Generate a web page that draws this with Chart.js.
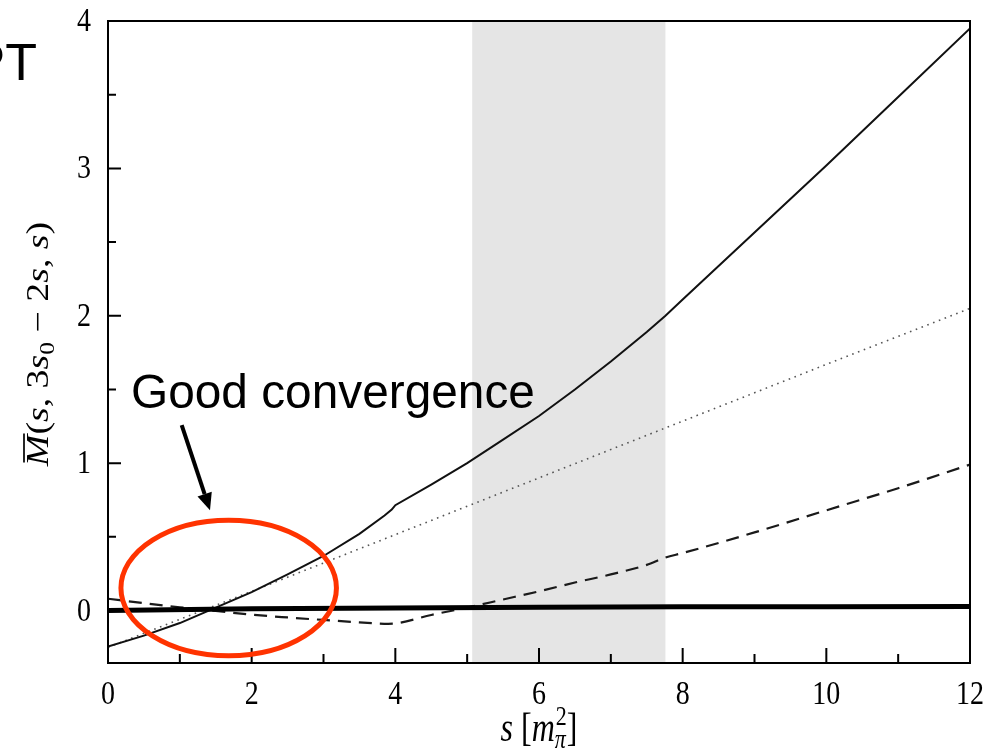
<!DOCTYPE html>
<html>
<head>
<meta charset="utf-8">
<script src="https://cdn.jsdelivr.net/npm/chart.js@4/dist/chart.umd.min.js"></script>
<style>
  html, body { margin: 0; padding: 0; background: #ffffff; }
  canvas { display: block; }
</style>
</head>
<body>
<canvas id="chart" width="992" height="753"></canvas>
<script>
// Full two-loop amplitude (solid)
const solidS = [0, 0.5, 1, 1.5, 2, 2.5, 3, 3.5, 3.85, 3.95, 4.0, 4.5, 5, 5.5, 6, 6.5, 7, 7.5, 7.76, 8, 9, 10, 11, 12];
const solidM = [-0.245, -0.17, -0.085, 0.02, 0.125, 0.245, 0.37, 0.52, 0.645, 0.685, 0.715, 0.855, 1.0, 1.16, 1.32, 1.5, 1.69, 1.89, 2.0, 2.11, 2.565, 3.02, 3.485, 3.95];

// Leading order (dotted)
const dotS = [0, 2, 4, 6, 8, 10, 12];
const dotM = [-0.25, 0.13, 0.515, 0.9, 1.285, 1.67, 2.05];

// Next-to-leading correction (dashed)
const dashS = [0, 0.5, 1, 1.5, 2, 2.5, 3, 3.5, 3.9, 4.0, 4.5, 5, 5.5, 6, 6.5, 7, 7.5, 7.76, 8, 9, 10, 11, 12];
const dashM = [0.08, 0.05, 0.022, -0.003, -0.028, -0.047, -0.064, -0.08, -0.09, -0.088, -0.03, 0.02, 0.075, 0.13, 0.19, 0.245, 0.31, 0.36, 0.39, 0.53, 0.68, 0.83, 0.99];

// Higher-order remainder (thick)
const thickS = [0, 2, 4, 6, 8, 10, 12];
const thickM = [0.0, 0.012, 0.018, 0.022, 0.025, 0.026, 0.027];

// Shaded s-range
const bandRange = [5.07, 7.76];

// Axis ranges and labelled ticks
const xRange = [0, 12];
const yRange = [-0.356, 4];
const xTickLabels = [0, 2, 4, 6, 8, 10, 12];
const yTickLabels = [0, 1, 2, 3, 4];

// Callout: ellipse centre/radii and arrow ends, in data units
const ellipseCenter = [1.68, 0.153];
const ellipseRadii = [1.5, 0.46];
const arrowFrom = [1.026, 1.258];
const arrowTo = [1.42, 0.681];
const calloutText = 'Good convergence';
const calloutAt = [0.32, 1.373];

const pts = (xs, ys) => xs.map((x, i) => ({ x: x, y: ys[i] }));

const SERIF = '"Liberation Serif", "Times New Roman", serif';
const SANS = '"Liberation Sans", Arial, sans-serif';
const STRETCH = 1.22;

// Text runs made of pieces {font, text, dy}
function measureRun(ctx, run) {
  let w = 0;
  run.forEach(p => { ctx.font = p.font; w += ctx.measureText(p.text).width; });
  return w;
}
function drawRun(ctx, run, x0) {
  let x = x0;
  run.forEach(p => {
    ctx.font = p.font;
    ctx.fillText(p.text, x, p.dy || 0);
    const w = ctx.measureText(p.text).width;
    if (p.overline) {
      ctx.save();
      ctx.lineWidth = 1.7;
      ctx.beginPath();
      ctx.moveTo(x + 3, -24);
      ctx.lineTo(x + w + 1, -24);
      ctx.stroke();
      ctx.restore();
    }
    x += w;
  });
}

const decorPlugin = {
  id: 'decor',
  beforeDatasetsDraw(chart) {
    const { ctx, chartArea: a, scales: { x } } = chart;
    const x0 = x.getPixelForValue(bandRange[0]);
    const x1 = x.getPixelForValue(bandRange[1]);
    ctx.save();
    ctx.fillStyle = '#e5e5e5';
    ctx.fillRect(x0, a.top, x1 - x0, a.bottom - a.top);
    ctx.restore();
  },
  afterDatasetsDraw(chart) {
    const { ctx, chartArea: a, scales: { x, y } } = chart;
    ctx.save();
    ctx.strokeStyle = '#000';
    ctx.lineWidth = 2;
    ctx.strokeRect(a.left, a.top, a.right - a.left, a.bottom - a.top);

    // inward tick marks
    ctx.beginPath();
    x.ticks.forEach(t => {
      const px = x.getPixelForValue(t.value);
      const len = (Math.round(t.value) % 2 === 0) ? 15 : 9;
      ctx.moveTo(px, a.bottom);
      ctx.lineTo(px, a.bottom - len);
    });
    y.ticks.forEach(t => {
      const py = y.getPixelForValue(t.value);
      const len = (Math.abs(t.value - Math.round(t.value)) < 1e-6) ? 13 : 8;
      ctx.moveTo(a.left, py);
      ctx.lineTo(a.left + len, py);
    });
    ctx.stroke();

    // tick labels
    ctx.fillStyle = '#000';
    ctx.font = '28px ' + SERIF;
    ctx.textBaseline = 'middle';
    x.ticks.forEach(t => {
      if (!xTickLabels.includes(t.value)) return;
      const px = x.getPixelForValue(t.value);
      ctx.save();
      ctx.translate(px, a.bottom + 32);
      ctx.scale(1, STRETCH);
      ctx.textAlign = 'center';
      ctx.fillText(String(t.value), 0, 0);
      ctx.restore();
    });
    y.ticks.forEach(t => {
      if (!yTickLabels.includes(t.value)) return;
      const py = y.getPixelForValue(t.value);
      ctx.save();
      ctx.translate(a.left - 17, py + 1);
      ctx.scale(1, STRETCH);
      ctx.textAlign = 'right';
      ctx.fillText(String(t.value), 0, 0);
      ctx.restore();
    });

    // x-axis title: s [m_pi^2]
    const it = 'italic 32px ' + SERIF;
    const rm = '32px ' + SERIF;
    const sm = '22px ' + SERIF;
    ctx.textBaseline = 'alphabetic';
    ctx.textAlign = 'left';
    ctx.save();
    ctx.translate((a.left + a.right) / 2, 741);
    ctx.scale(1, STRETCH);
    const xRun = [
      { font: it, text: 's' }, { font: rm, text: ' [' }, { font: it, text: 'm' }
    ];
    const wMain = measureRun(ctx, xRun);
    ctx.font = sm;
    const wSup = ctx.measureText('2').width + 1;
    ctx.font = rm;
    const wBr = ctx.measureText(']').width;
    const total = wMain + wSup + wBr;
    const start = -total / 2;
    drawRun(ctx, xRun, start);
    ctx.font = sm;
    ctx.fillText('2', start + wMain + 1, -13);
    ctx.font = 'italic 22px ' + SERIF;
    ctx.fillText('\u03c0', start + wMain, 6);
    ctx.font = rm;
    ctx.fillText(']', start + wMain + wSup, 0);
    ctx.restore();

    // y-axis title: M-bar(s, 3s0 - 2s, s)
    const yit = 'italic 31px ' + SERIF;
    const yrm = '31px ' + SERIF;
    const ysm = '21px ' + SERIF;
    ctx.save();
    ctx.translate(48, 344);
    ctx.rotate(-Math.PI / 2);
    ctx.scale(STRETCH, 1);
    const yRun = [
      { font: yit, text: 'M', overline: true },
      { font: yrm, text: '(' }, { font: yit, text: 's' }, { font: yrm, text: ', 3' },
      { font: yit, text: 's' }, { font: ysm, text: '0', dy: 6 },
      { font: yrm, text: ' \u2212 2' }, { font: yit, text: 's' }, { font: yrm, text: ', ' },
      { font: yit, text: 's' }, { font: yrm, text: ')' }
    ];
    const wy = measureRun(ctx, yRun);
    drawRun(ctx, yRun, -wy / 2);
    ctx.restore();
    ctx.restore();
  },
  afterDraw(chart) {
    const { ctx, scales: { x, y } } = chart;
    ctx.save();

    // red ellipse around the crossing region
    const cx = x.getPixelForValue(ellipseCenter[0]);
    const cy = y.getPixelForValue(ellipseCenter[1]);
    const rx = x.getPixelForValue(ellipseCenter[0] + ellipseRadii[0]) - cx;
    const ry = cy - y.getPixelForValue(ellipseCenter[1] + ellipseRadii[1]);
    ctx.strokeStyle = '#ff3300';
    ctx.lineWidth = 5;
    ctx.beginPath();
    ctx.ellipse(cx, cy, rx, ry, 0, 0, Math.PI * 2);
    ctx.stroke();

    // arrow
    const ax0 = x.getPixelForValue(arrowFrom[0]), ay0 = y.getPixelForValue(arrowFrom[1]);
    const ax1 = x.getPixelForValue(arrowTo[0]), ay1 = y.getPixelForValue(arrowTo[1]);
    const ang = Math.atan2(ay1 - ay0, ax1 - ax0);
    const headLen = 17, headHalf = 7.5;
    const bx = ax1 - headLen * Math.cos(ang), by = ay1 - headLen * Math.sin(ang);
    ctx.strokeStyle = '#000';
    ctx.fillStyle = '#000';
    ctx.lineWidth = 4;
    ctx.beginPath();
    ctx.moveTo(ax0, ay0);
    ctx.lineTo(bx, by);
    ctx.stroke();
    ctx.beginPath();
    ctx.moveTo(ax1, ay1);
    ctx.lineTo(bx + headHalf * Math.sin(ang), by - headHalf * Math.cos(ang));
    ctx.lineTo(bx - headHalf * Math.sin(ang), by + headHalf * Math.cos(ang));
    ctx.closePath();
    ctx.fill();

    // callout text
    ctx.font = '47.8px ' + SANS;
    ctx.textAlign = 'left';
    ctx.textBaseline = 'alphabetic';
    ctx.fillText(calloutText, x.getPixelForValue(calloutAt[0]), y.getPixelForValue(calloutAt[1]));

    // slide heading fragment at the top-left edge
    ctx.font = '52px ' + SANS;
    ctx.textAlign = 'right';
    ctx.fillText('PT', 37, 80);
    ctx.restore();
  }
};

new Chart(document.getElementById('chart'), {
  type: 'line',
  data: {
    datasets: [
      { label: 'remainder', data: pts(thickS, thickM), borderColor: '#000', borderWidth: 5, borderCapStyle: 'butt' },
      { label: 'full', data: pts(solidS, solidM), borderColor: '#111', borderWidth: 2 },
      { label: 'correction', data: pts(dashS, dashM), borderColor: '#1a1a1a', borderWidth: 2.2, borderDash: [13, 8], cubicInterpolationMode: 'monotone' },
      { label: 'leading', data: pts(dotS, dotM), borderColor: '#555', borderWidth: 1.6, borderDash: [1.6, 4.6] }
    ]
  },
  options: {
    responsive: false,
    animation: false,
    devicePixelRatio: 1,
    elements: { point: { radius: 0 }, line: { tension: 0, fill: false } },
    layout: { padding: { top: 21, right: 22, left: 0, bottom: 0 } },
    plugins: { legend: { display: false }, tooltip: { enabled: false } },
    scales: {
      x: {
        type: 'linear', min: xRange[0], max: xRange[1],
        ticks: { display: false, stepSize: 1, includeBounds: false },
        grid: { display: false }, border: { display: false },
        afterFit: s => { s.height = 90; }
      },
      y: {
        type: 'linear', min: yRange[0], max: yRange[1],
        ticks: { display: false, stepSize: 0.5, includeBounds: false },
        grid: { display: false }, border: { display: false },
        afterFit: s => { s.width = 108; }
      }
    }
  },
  plugins: [decorPlugin]
});
</script>
</body>
</html>
